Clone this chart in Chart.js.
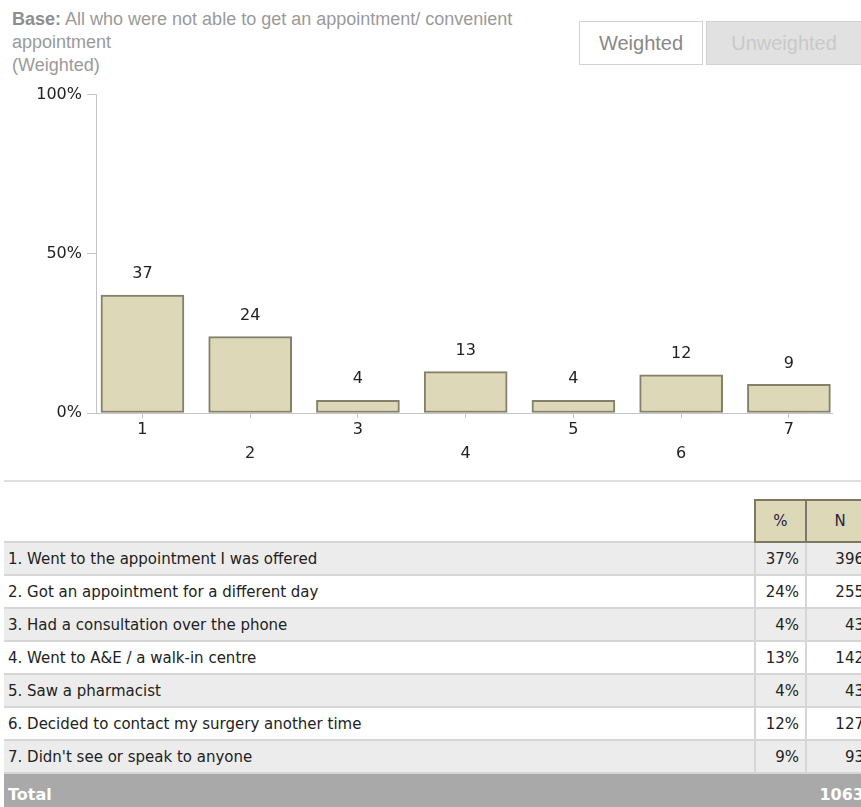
<!DOCTYPE html>
<html>
<head>
<meta charset="utf-8">
<script src="https://cdn.jsdelivr.net/npm/chart.js@4.4.1/dist/chart.umd.min.js"></script>
<style>
  html, body { margin:0; padding:0; width:861px; height:807px; overflow:hidden; background:#fff; }
  #base { position:absolute; left:12px; top:8px; font:18px "Liberation Sans", Arial, sans-serif; line-height:23px; color:#9a9a9a; }
  #base b { color:#8e8e8e; }
  .btn { position:absolute; top:21px; height:44px; box-sizing:border-box; font:20px "Liberation Sans", Arial, sans-serif; text-align:center; line-height:42px; }
  #bw { left:579px; width:124px; border:1px solid #d2d2d2; background:#fff; color:#888; }
  #bu { left:706px; width:156px; border:1px solid #d2d2d2; background:#e1e1e1; color:#c9c9c9; }
  #cv { position:absolute; left:0; top:80px; }
  #sep { position:absolute; left:4px; top:480px; width:870px; height:2px; background:#dedede; }
  #tblwrap { position:absolute; left:4px; top:499px; }
  table { border-collapse:collapse; table-layout:fixed; width:870px; font:15px "DejaVu Sans", Verdana, sans-serif; color:#222; }
  td { padding:0; white-space:nowrap; overflow:hidden; }
  tr.hd td { height:40px; }
  tr.hd td.h { background:#ddd8b8; border:2px solid #7d7862; text-align:center; color:#2a2240; }
  tr.row td { height:31px; border-top:2px solid #d6d6d6; }
  tr.row td.l { padding-left:4px; }
  tr.row td.p { text-align:right; padding-right:6px; border-left:2px solid #d6d6d6; }
  tr.row td.n { text-align:right; padding-right:10px; border-left:2px solid #d6d6d6; }
  tr.odd td { background:#ececec; }
  tr.even td { background:#fff; }
  tr.tot td { height:40px; background:#a9a9a9; color:#fff; font-weight:bold; font-size:16px; border-top:2px solid #d6d6d6; }
  tr.tot td.l { padding-left:4px; }
  tr.tot td.n { text-align:right; padding-right:10px; }
</style>
</head>
<body>
<div id="base"><b>Base:</b> All who were not able to get an appointment/ convenient<br>appointment<br>(Weighted)</div>
<div class="btn" id="bw">Weighted</div>
<div class="btn" id="bu">Unweighted</div>
<canvas id="cv" width="861" height="400"></canvas>
<div id="sep"></div>
<div id="tblwrap"><table id="tbl">
<colgroup><col style="width:751px"><col style="width:51px"><col style="width:68px"></colgroup>
</table></div>
<script>
// ---- data ----
const categories = [1, 2, 3, 4, 5, 6, 7];
const xTickLabels = ['1', '2', '3', '4', '5', '6', '7'];
const percentValues = [37, 24, 4, 13, 4, 12, 9];
const yTickValues = [0, 50, 100];
const rowLabels = [
  '1. Went to the appointment I was offered',
  '2. Got an appointment for a different day',
  '3. Had a consultation over the phone',
  '4. Went to A&E / a walk-in centre',
  '5. Saw a pharmacist',
  '6. Decided to contact my surgery another time',
  "7. Didn't see or speak to anyone"
];
const nValues = [396, 255, 43, 142, 43, 127, 93];
const totalN = 1063;

// ---- table ----
const tbl = document.getElementById('tbl');
function addRow(cls, cells) {
  const tr = document.createElement('tr');
  tr.className = cls;
  cells.forEach(([c, t]) => { const td = document.createElement('td'); td.className = c; td.textContent = t; tr.appendChild(td); });
  tbl.appendChild(tr);
}
addRow('hd', [['', ''], ['h', '%'], ['h', 'N']]);
rowLabels.forEach((lab, i) => {
  addRow('row ' + (i % 2 === 0 ? 'odd' : 'even'), [['l', lab], ['p', percentValues[i] + '%'], ['n', String(nValues[i])]]);
});
addRow('tot', [['l', 'Total'], ['', ''], ['n', String(totalN)]]);

// ---- chart ----
const barLabels = {
  id: 'barLabels',
  afterDatasetsDraw(chart) {
    const ctx = chart.ctx;
    const meta = chart.getDatasetMeta(0);
    ctx.save();
    ctx.font = '16px "DejaVu Sans", Verdana, sans-serif';
    ctx.fillStyle = '#222';
    ctx.textAlign = 'center';
    ctx.textBaseline = 'middle';
    meta.data.forEach((bar, i) => {
      ctx.fillText(String(percentValues[i]), bar.x, bar.y - 21);
    });
    ctx.restore();
  }
};

new Chart(document.getElementById('cv'), {
  type: 'bar',
  data: {
    datasets: [{
      data: categories.map((c, i) => ({ x: c, y: percentValues[i] })),
      backgroundColor: '#ddd8b8',
      borderColor: '#85806a',
      borderWidth: 2,
      borderSkipped: false,
      barThickness: 83
    }]
  },
  options: {
    responsive: false,
    animation: false,
    devicePixelRatio: 1,
    layout: { padding: { top: 11, right: 29, left: 0, bottom: 0 } },
    plugins: { legend: { display: false }, tooltip: { enabled: false } },
    scales: {
      x: {
        type: 'linear',
        min: 0.569,
        max: 7.4,
        offset: false,
        afterFit: (axis) => { axis.height = 67; },
        afterBuildTicks: (axis) => { axis.ticks = categories.map(v => ({ value: v })); },
        grid: { display: true, offset: false, drawOnChartArea: false, drawTicks: true, tickLength: 5, color: '#c4c4c4' },
        border: { display: true, color: '#c4c4c4', width: 1 },
        ticks: {
          autoSkip: false,
          maxRotation: 0,
          padding: 0,
          color: '#222',
          font: { family: '"DejaVu Sans", Verdana, sans-serif', size: 16, lineHeight: '24px' },
          callback: (value) => {
            const i = categories.indexOf(value);
            if (i < 0) return '';
            return i % 2 === 1 ? ['', xTickLabels[i]] : xTickLabels[i];
          }
        }
      },
      y: {
        min: 0,
        max: 100,
        afterFit: (axis) => { axis.width = 96; },
        afterBuildTicks: (axis) => { axis.ticks = yTickValues.map(v => ({ value: v })); },
        grid: { display: true, drawOnChartArea: false, drawTicks: true, tickLength: 9, color: '#c4c4c4' },
        border: { display: true, color: '#c4c4c4', width: 1 },
        ticks: {
          padding: 5,
          color: '#222',
          font: { family: '"DejaVu Sans", Verdana, sans-serif', size: 16 },
          callback: (v) => v + '%'
        }
      }
    }
  },
  plugins: [barLabels]
});
</script>
</body>
</html>
